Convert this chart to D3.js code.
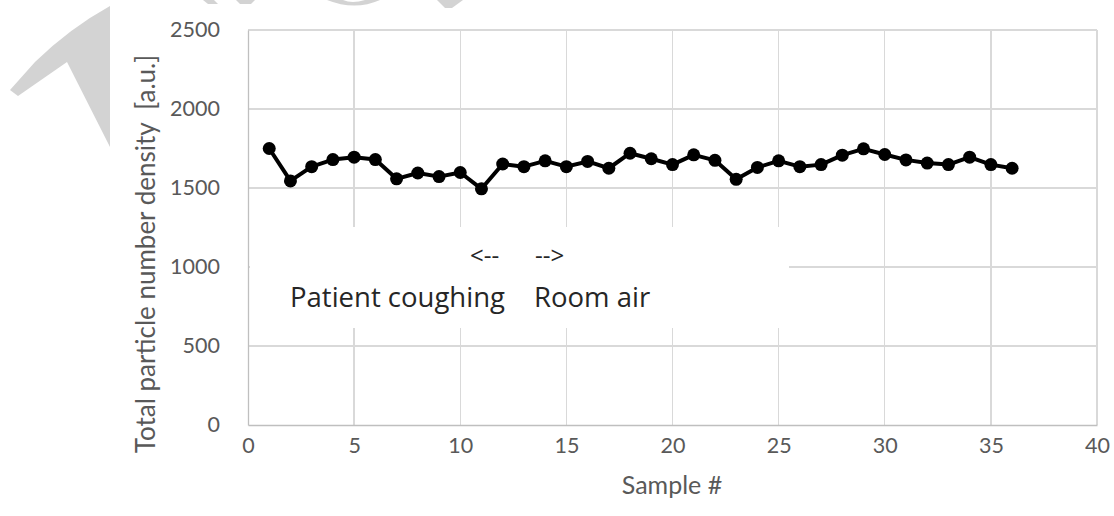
<!DOCTYPE html>
<html><head><meta charset="utf-8">
<script src="https://cdn.jsdelivr.net/npm/d3@7"></script>
<style>body{margin:0;background:#fff;} svg{display:block;}</style>
</head><body>
<svg id="chart" width="1114" height="516"></svg>
<script>
const samples = d3.range(1, 37);
const density = [1750,1545,1635,1680,1695,1680,1558,1595,1572,1598,1495,1652,1635,1672,1635,1668,1625,1720,1685,1648,1710,1675,1555,1630,1672,1635,1648,1708,1748,1712,1678,1658,1648,1695,1648,1625];
const xTicks = [0,5,10,15,20,25,30,35,40];
const yTicks = [0,500,1000,1500,2000,2500];
const yLabel = "Total particle number density  [a.u.]";
const xLabel = "Sample #";

const svg = d3.select("#chart");
const m = {left:248, right:1097, top:30, bottom:425};
const x = d3.scaleLinear().domain([0,40]).range([m.left, m.right]);
const y = d3.scaleLinear().domain([0,2500]).range([m.bottom, m.top]);

// watermark fragments
const wm = svg.append("g").attr("fill","#d3d3d3");
wm.append("path").attr("d","M10,90 L35,62 Q70,28 110,6 L110,147 L67,62 L18,96 Z");
wm.append("path").attr("d","M203,0 L214,0 L218,4 L208,4 Z M236,0 L255,0 L251,4 L240,4 Z");
wm.append("path").attr("d","M327,0 L343,0 Q352,4 365,0 L380,0 Q355,11 327,0 Z");
wm.append("path").attr("d","M437,0 L463,0 L452,8 L445,8 Z");

// gridlines
const grid = svg.append("g").attr("stroke","#d9d9d9").attr("stroke-width",1.3).attr("shape-rendering","crispEdges");
yTicks.forEach(v=>{ if(v>0) grid.append("line").attr("x1",m.left).attr("x2",m.right).attr("y1",y(v)).attr("y2",y(v)); });
xTicks.forEach(v=>{ if(v>0) grid.append("line").attr("x1",x(v)).attr("x2",x(v)).attr("y1",m.top).attr("y2",m.bottom); });

// axes
const xAxis = d3.axisBottom(x).tickValues(xTicks).tickFormat(d3.format("d")).tickSize(0).tickPadding(13);
const yAxis = d3.axisLeft(y).tickValues(yTicks).tickFormat(d3.format("d")).tickSize(0).tickPadding(28);
const gx = svg.append("g").attr("transform",`translate(0,${m.bottom})`).call(xAxis);
const gy = svg.append("g").attr("transform",`translate(${m.left},0)`).call(yAxis);
[gx,gy].forEach(g=>{
  g.select(".domain").attr("stroke","#bfbfbf").attr("stroke-width",1.3);
  g.selectAll("text").attr("fill","#595959").style("font-family","Lato, Carlito, sans-serif").style("font-size","21.5px");
});

// white box behind annotation
svg.append("rect").attr("x",250).attr("y",227).attr("width",539).attr("height",101).attr("fill","#fff");

// line + markers
const line = d3.line().x((d,i)=>x(samples[i])).y(d=>y(d));
svg.append("path").datum(density).attr("d",line).attr("fill","none").attr("stroke","#000").attr("stroke-width",4).attr("stroke-linejoin","round");
svg.append("g").selectAll("circle").data(density).join("circle")
  .attr("cx",(d,i)=>x(samples[i])).attr("cy",d=>y(d)).attr("r",6.5).attr("fill","#000");

// annotations
const ann = svg.append("g").attr("fill","#262626").style("font-family","'Open Sans', sans-serif");
ann.append("text").attr("x",290).attr("y",307).style("font-size","27.5px").text("Patient coughing");
ann.append("text").attr("x",534).attr("y",307).style("font-size","27.5px").text("Room air");
ann.append("text").attr("x",470).attr("y",264).style("font-size","24px").text("<--");
ann.append("text").attr("x",535).attr("y",264).style("font-size","24px").text("-->");

// axis titles
svg.append("text").attr("transform",`translate(155,254) rotate(-90)`).attr("text-anchor","middle")
  .attr("fill","#595959").style("font-family","Lato, sans-serif").style("font-size","26px").style("white-space","pre").text(yLabel);
svg.append("text").attr("x",672).attr("y",494).attr("text-anchor","middle")
  .attr("fill","#595959").style("font-family","Lato, sans-serif").style("font-size","25px").text(xLabel);
</script>
</body></html>
